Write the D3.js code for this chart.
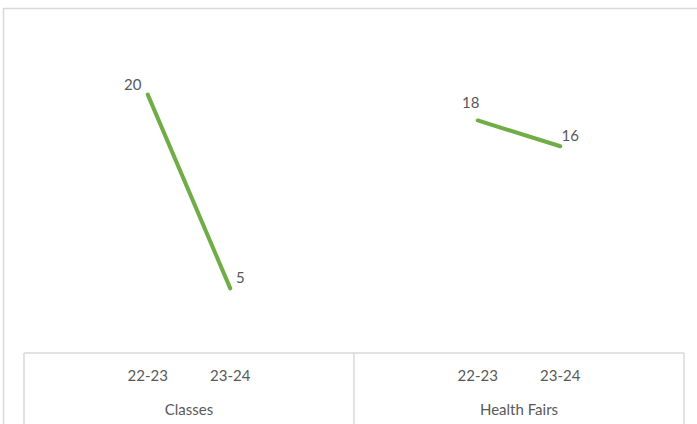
<!DOCTYPE html>
<html>
<head>
<meta charset="UTF-8">
<script src="https://d3js.org/d3.v7.min.js"></script>
<style>
  body { margin: 0; background: #fff; }
  svg text { font-family: Lato, "Open Sans", sans-serif; fill: #595959; }
</style>
</head>
<body>
<div id="chart"></div>
<script>
// data
const groups = ["Classes", "Health Fairs"];
const periods = ["22-23", "23-24"];
const classesValues = [20, 5];
const healthFairsValues = [18, 16];
const seriesValues = [classesValues, healthFairsValues];

const W = 697, H = 424;
const plotLeft = 24, plotRight = 684, axisY = 353, plotTop = 30;

const svg = d3.select("#chart").append("svg")
  .attr("width", W).attr("height", H);

// chart border (cropped off on right/bottom)
svg.append("rect")
  .attr("x", 3.5).attr("y", 8.5)
  .attr("width", W + 20).attr("height", H + 20)
  .attr("fill", "none").attr("stroke", "#d9d9d9").attr("stroke-width", 1.5);

const groupScale = d3.scaleBand().domain(groups).range([plotLeft, plotRight]);
const y = d3.scaleLinear().domain([0, 25]).range([axisY, plotTop]);

// category axis: horizontal line + group dividers
const axisG = svg.append("g");
axisG.append("line")
  .attr("x1", plotLeft).attr("x2", plotRight)
  .attr("y1", axisY).attr("y2", axisY)
  .attr("stroke", "#d9d9d9").attr("stroke-width", 1.5);

const dividers = [plotLeft, ...groups.map(g => groupScale(g) + groupScale.bandwidth())];
axisG.selectAll(".div").data(dividers).enter().append("line")
  .attr("x1", d => d).attr("x2", d => d)
  .attr("y1", axisY).attr("y2", H + 5)
  .attr("stroke", "#d9d9d9").attr("stroke-width", 1.5);

const line = d3.line().x(d => d.x).y(d => d.y);

groups.forEach((g, gi) => {
  const x0 = groupScale(g);
  const x = d3.scalePoint().domain(periods)
    .range([x0, x0 + groupScale.bandwidth()]).padding(1.5);

  // sub-category labels
  axisG.selectAll(".sub" + gi).data(periods).enter().append("text")
    .attr("x", d => x(d)).attr("y", 381)
    .attr("text-anchor", "middle").attr("font-size", 15)
    .text(d => d);

  // group label
  axisG.append("text")
    .attr("x", x0 + groupScale.bandwidth() / 2).attr("y", 415)
    .attr("text-anchor", "middle").attr("font-size", 15)
    .text(g);

  const pts = periods.map((p, i) => ({ x: x(p), y: y(seriesValues[gi][i]), v: seriesValues[gi][i], i }));

  svg.append("path")
    .attr("d", line(pts))
    .attr("fill", "none")
    .attr("stroke", "#70AD47")
    .attr("stroke-width", 4)
    .attr("stroke-linecap", "round");

  svg.selectAll(".lbl" + gi).data(pts).enter().append("text")
    .attr("x", d => d.i === 0 ? d.x - (gi === 0 ? 15 : 7) : d.x + 10)
    .attr("y", d => d.i === 0 ? d.y - (gi === 0 ? 5 : 12) : d.y - 5)
    .attr("text-anchor", "middle")
    .attr("font-size", 15)
    .text(d => d.v);
});
</script>
</body>
</html>
